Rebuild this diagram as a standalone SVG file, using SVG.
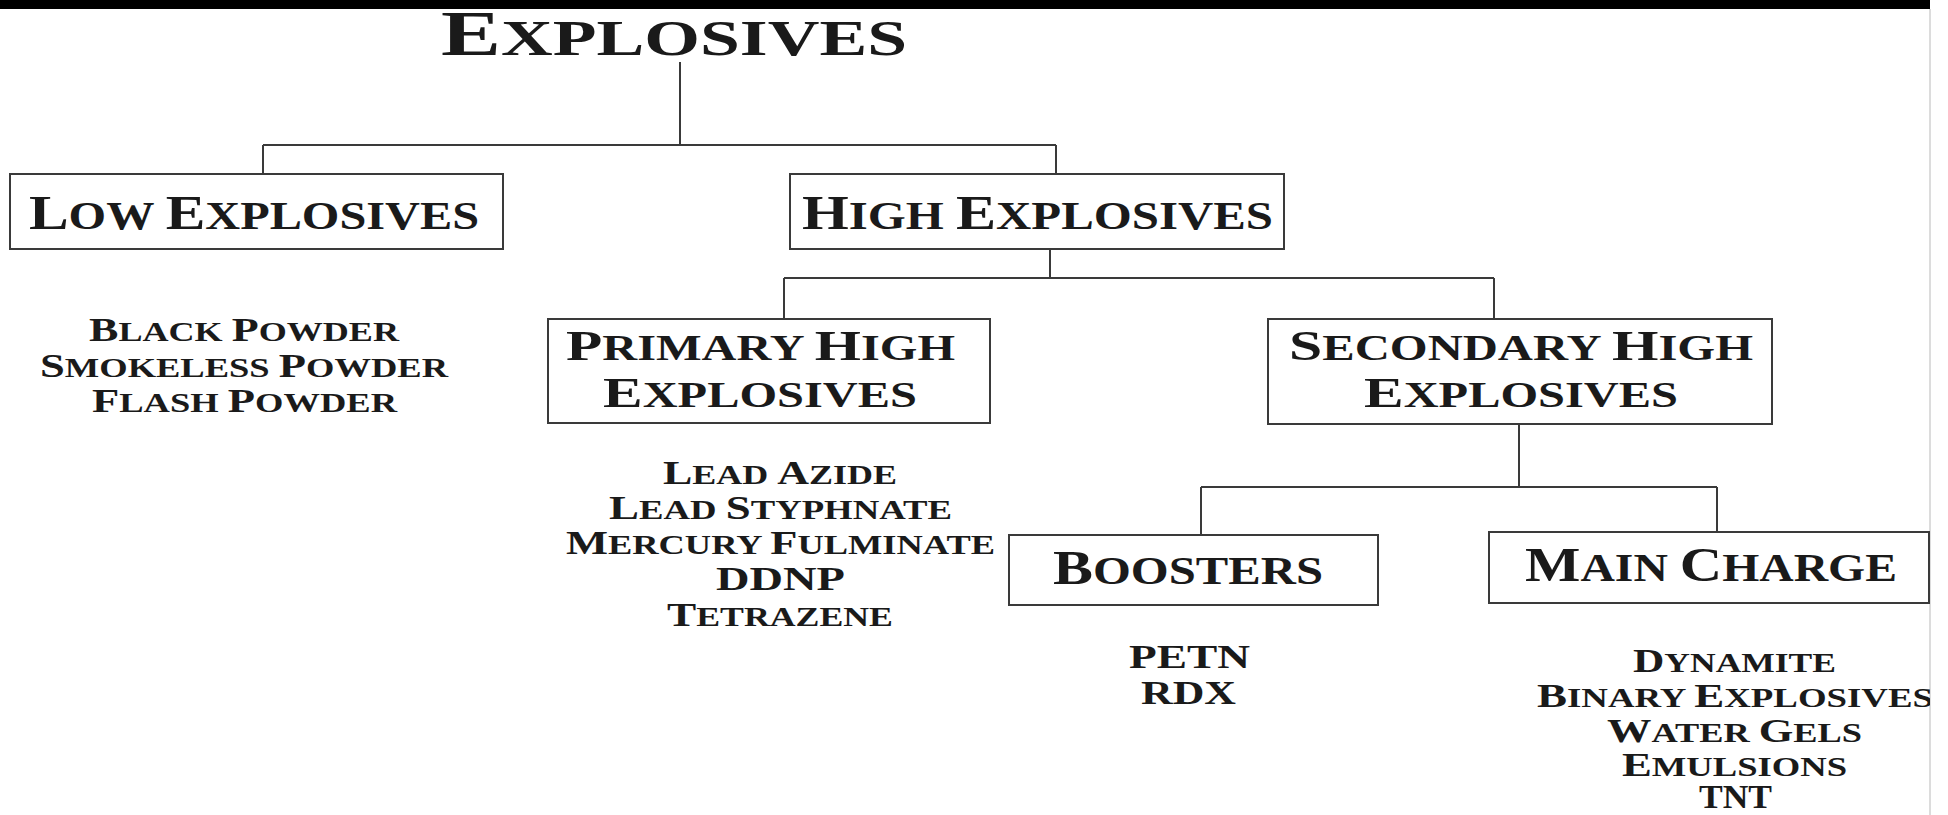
<svg xmlns="http://www.w3.org/2000/svg" width="1948" height="815" viewBox="0 0 1948 815">
<defs>
<style>
text{font-family:"Liberation Serif","Times New Roman",serif;font-weight:bold;fill:#1a1a1a}
.box{fill:#fff;stroke:#3a3a3a;stroke-width:2}
.conn line{stroke:#3a3a3a;stroke-width:2}
.tb{font-size:64px}.ts{font-size:51px}
.lb{font-size:48px}.ls{font-size:39px}
.mb{font-size:43px}.ms{font-size:35px}
.ib{font-size:33px}.is{font-size:27px}
</style>
<clipPath id="pageClip"><rect x="0" y="0" width="1930" height="815"/></clipPath>
</defs>
<rect x="0" y="0" width="1948" height="815" fill="#fff"/>
<rect x="0" y="0" width="1930" height="9" fill="#000"/>
<line x1="1930" y1="9" x2="1930" y2="815" stroke="#dcdcdc" stroke-width="2"/>

<g id="connectors" class="conn">
<line x1="680" y1="62" x2="680" y2="145"/>
<line x1="263" y1="145" x2="1056" y2="145"/>
<line x1="263" y1="145" x2="263" y2="174"/>
<line x1="1056" y1="145" x2="1056" y2="174"/>
<line x1="1050" y1="249" x2="1050" y2="278"/>
<line x1="784" y1="278" x2="1494" y2="278"/>
<line x1="784" y1="278" x2="784" y2="319"/>
<line x1="1494" y1="278" x2="1494" y2="319"/>
<line x1="1519" y1="424" x2="1519" y2="487"/>
<line x1="1201" y1="487" x2="1717" y2="487"/>
<line x1="1201" y1="487" x2="1201" y2="535"/>
<line x1="1717" y1="487" x2="1717" y2="532"/>
</g>

<g id="explosives">
<text x="441" y="55" textLength="466" lengthAdjust="spacingAndGlyphs"><tspan class="tb">E</tspan><tspan class="ts">XPLOSIVES</tspan></text>
</g>

<g id="low-explosives">
<rect class="box" x="10" y="174" width="493" height="75"/>
<text x="29" y="229" textLength="450" lengthAdjust="spacingAndGlyphs"><tspan class="lb">L</tspan><tspan class="ls">OW </tspan><tspan class="lb">E</tspan><tspan class="ls">XPLOSIVES</tspan></text>
<text x="89" y="341" textLength="310" lengthAdjust="spacingAndGlyphs"><tspan class="ib">B</tspan><tspan class="is">LACK </tspan><tspan class="ib">P</tspan><tspan class="is">OWDER</tspan></text>
<text x="40" y="377" textLength="408" lengthAdjust="spacingAndGlyphs"><tspan class="ib">S</tspan><tspan class="is">MOKELESS </tspan><tspan class="ib">P</tspan><tspan class="is">OWDER</tspan></text>
<text x="92" y="412" textLength="305" lengthAdjust="spacingAndGlyphs"><tspan class="ib">F</tspan><tspan class="is">LASH </tspan><tspan class="ib">P</tspan><tspan class="is">OWDER</tspan></text>
</g>

<g id="high-explosives">
<rect class="box" x="790" y="174" width="494" height="75"/>
<text x="802" y="229" textLength="471" lengthAdjust="spacingAndGlyphs"><tspan class="lb">H</tspan><tspan class="ls">IGH </tspan><tspan class="lb">E</tspan><tspan class="ls">XPLOSIVES</tspan></text>
</g>

<g id="primary-high-explosives">
<rect class="box" x="548" y="319" width="442" height="104"/>
<text x="566" y="360" textLength="389" lengthAdjust="spacingAndGlyphs"><tspan class="mb">P</tspan><tspan class="ms">RIMARY </tspan><tspan class="mb">H</tspan><tspan class="ms">IGH</tspan></text>
<text x="603" y="407" textLength="314" lengthAdjust="spacingAndGlyphs"><tspan class="mb">E</tspan><tspan class="ms">XPLOSIVES</tspan></text>
<text x="663" y="484" textLength="234" lengthAdjust="spacingAndGlyphs"><tspan class="ib">L</tspan><tspan class="is">EAD </tspan><tspan class="ib">A</tspan><tspan class="is">ZIDE</tspan></text>
<text x="609" y="519" textLength="343" lengthAdjust="spacingAndGlyphs"><tspan class="ib">L</tspan><tspan class="is">EAD </tspan><tspan class="ib">S</tspan><tspan class="is">TYPHNATE</tspan></text>
<text x="566" y="554" textLength="429" lengthAdjust="spacingAndGlyphs"><tspan class="ib">M</tspan><tspan class="is">ERCURY </tspan><tspan class="ib">F</tspan><tspan class="is">ULMINATE</tspan></text>
<text x="716" y="590" textLength="129" lengthAdjust="spacingAndGlyphs" class="ib">DDNP</text>
<text x="667" y="626" textLength="226" lengthAdjust="spacingAndGlyphs"><tspan class="ib">T</tspan><tspan class="is">ETRAZENE</tspan></text>
</g>

<g id="secondary-high-explosives">
<rect class="box" x="1268" y="319" width="504" height="105"/>
<text x="1289" y="360" textLength="464" lengthAdjust="spacingAndGlyphs"><tspan class="mb">S</tspan><tspan class="ms">ECONDARY </tspan><tspan class="mb">H</tspan><tspan class="ms">IGH</tspan></text>
<text x="1364" y="407" textLength="314" lengthAdjust="spacingAndGlyphs"><tspan class="mb">E</tspan><tspan class="ms">XPLOSIVES</tspan></text>
</g>

<g id="boosters">
<rect class="box" x="1009" y="535" width="369" height="70"/>
<text x="1053" y="584" textLength="270" lengthAdjust="spacingAndGlyphs"><tspan class="lb">B</tspan><tspan class="ls">OOSTERS</tspan></text>
<text x="1129" y="668" textLength="121" lengthAdjust="spacingAndGlyphs" class="ib">PETN</text>
<text x="1141" y="704" textLength="95" lengthAdjust="spacingAndGlyphs" class="ib">RDX</text>
</g>

<g id="main-charge" clip-path="url(#pageClip)">
<rect class="box" x="1489" y="532" width="440" height="71"/>
<text x="1525" y="581" textLength="372" lengthAdjust="spacingAndGlyphs"><tspan class="lb">M</tspan><tspan class="ls">AIN </tspan><tspan class="lb">C</tspan><tspan class="ls">HARGE</tspan></text>
<text x="1633" y="672" textLength="203" lengthAdjust="spacingAndGlyphs"><tspan class="ib">D</tspan><tspan class="is">YNAMITE</tspan></text>
<text x="1537" y="707" textLength="396" lengthAdjust="spacingAndGlyphs"><tspan class="ib">B</tspan><tspan class="is">INARY </tspan><tspan class="ib">E</tspan><tspan class="is">XPLOSIVES</tspan></text>
<text x="1607" y="742" textLength="255" lengthAdjust="spacingAndGlyphs"><tspan class="ib">W</tspan><tspan class="is">ATER </tspan><tspan class="ib">G</tspan><tspan class="is">ELS</tspan></text>
<text x="1622" y="776" textLength="225" lengthAdjust="spacingAndGlyphs"><tspan class="ib">E</tspan><tspan class="is">MULSIONS</tspan></text>
<text x="1699" y="808" textLength="73" lengthAdjust="spacingAndGlyphs" class="ib">TNT</text>
</g>
</svg>
